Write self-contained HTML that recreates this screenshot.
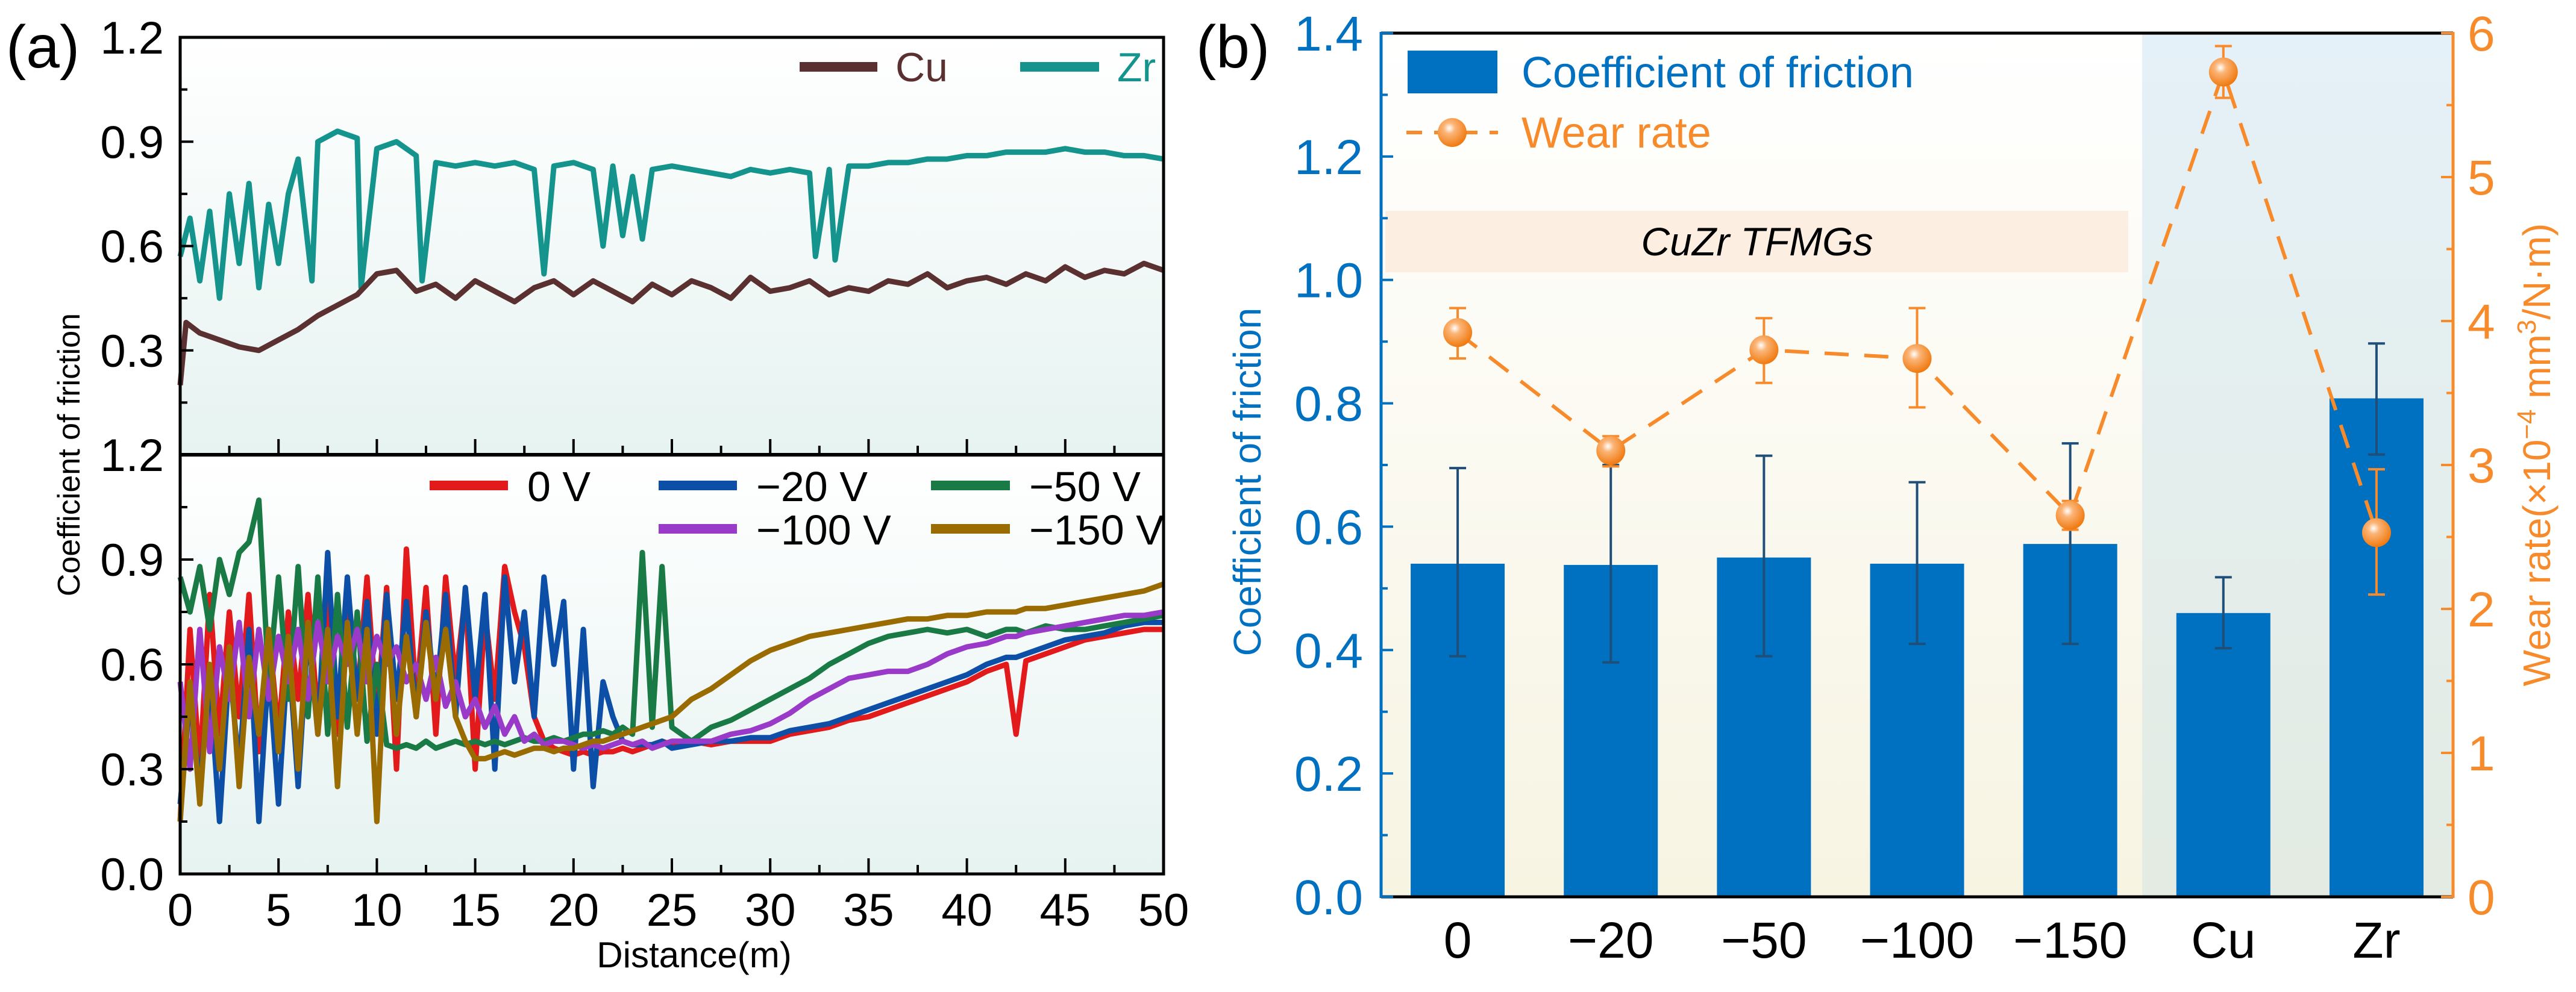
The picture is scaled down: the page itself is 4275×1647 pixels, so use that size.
<!DOCTYPE html>
<html><head><meta charset="utf-8"><style>
html,body{margin:0;padding:0;background:#fff}
svg{display:block}
text{font-family:"Liberation Sans Narrow","Liberation Sans",sans-serif}
</style></head><body>
<svg id="fig" width="4275" height="1647" viewBox="0 0 4275 1647" xmlns="http://www.w3.org/2000/svg">
<defs>
<linearGradient id="gL" x1="0" y1="0" x2="0" y2="1"><stop offset="0" stop-color="#ffffff"/><stop offset="1" stop-color="#e6f3f1"/></linearGradient>
<linearGradient id="gY" x1="0" y1="0" x2="0" y2="1"><stop offset="0" stop-color="#ffffff"/><stop offset="1" stop-color="#f7f4e2"/></linearGradient>
<linearGradient id="gB" x1="0" y1="0" x2="0" y2="1"><stop offset="0" stop-color="#e5f1f8"/><stop offset="1" stop-color="#e3ebe2"/></linearGradient>
<radialGradient id="ball" cx="0.4" cy="0.35" r="0.65"><stop offset="0" stop-color="#ffffff"/><stop offset="0.3" stop-color="#fbb578"/><stop offset="1" stop-color="#f07a10"/></radialGradient>
</defs>
<g id="pa"></g>
<g id="pb"></g>
</svg>
<script>
// ---------- Panel (a) top data ----------
const zrX = [0,0.5,1,1.5,2,2.5,3,3.5,4,4.5,5,5.5,6,6.7,7,8,9,9.2,10,11,12,12.3,13,14,15,16,17,18,18.5,19,20,21,21.5,22,22.5,23,23.5,24,25,26,27,28,29,30,31,32,32.3,33,33.3,34,35,36,37,38,39,40,41,42,43,44,45,46,47,48,49,50];
const zrY = [0.57,0.68,0.5,0.7,0.45,0.75,0.55,0.78,0.48,0.72,0.55,0.75,0.85,0.5,0.9,0.93,0.91,0.48,0.88,0.9,0.86,0.5,0.84,0.83,0.84,0.83,0.84,0.82,0.52,0.83,0.84,0.82,0.6,0.83,0.63,0.8,0.62,0.82,0.83,0.82,0.81,0.8,0.82,0.81,0.82,0.81,0.57,0.82,0.56,0.83,0.83,0.84,0.84,0.85,0.85,0.86,0.86,0.87,0.87,0.87,0.88,0.87,0.87,0.86,0.86,0.85];
const cuX = [0,0.3,1,2,3,4,5,6,7,8,9,10,11,12,13,14,15,16,17,18,19,20,21,22,23,24,25,26,27,28,29,30,31,32,33,34,35,36,37,38,39,40,41,42,43,44,45,46,47,48,49,50];
const cuY = [0.2,0.38,0.35,0.33,0.31,0.3,0.33,0.36,0.4,0.43,0.46,0.52,0.53,0.47,0.49,0.45,0.5,0.47,0.44,0.48,0.5,0.46,0.5,0.47,0.44,0.49,0.46,0.5,0.48,0.45,0.51,0.47,0.48,0.5,0.46,0.48,0.47,0.5,0.49,0.52,0.48,0.5,0.51,0.49,0.52,0.5,0.54,0.51,0.53,0.52,0.55,0.53];
// ---------- Panel (a) bottom data ----------
const biasX = [0,0.5,1,1.5,2,2.5,3,3.5,4,4.5,5,5.5,6,6.5,7,7.5,8,8.5,9,9.5,10,10.5,11,11.5,12,12.5,13,13.5,14,14.5,15,15.5,16,16.5,17,17.5,18,18.5,19,19.5,20,20.5,21,21.5,22,22.5,23,23.5,24,24.5,25,26,27,28,29,30,31,32,33,34,35,36,37,38,39,40,41,42,42.5,43,44,45,46,47,48,49,50];
const v0 = [0.15,0.7,0.3,0.8,0.4,0.75,0.45,0.8,0.35,0.7,0.4,0.75,0.5,0.8,0.45,0.78,0.4,0.8,0.5,0.85,0.45,0.82,0.3,0.93,0.5,0.82,0.4,0.85,0.55,0.8,0.3,0.75,0.5,0.88,0.75,0.65,0.45,0.38,0.36,0.35,0.34,0.35,0.34,0.35,0.35,0.36,0.35,0.36,0.37,0.38,0.37,0.38,0.37,0.38,0.38,0.38,0.4,0.41,0.42,0.44,0.45,0.47,0.49,0.51,0.53,0.55,0.58,0.6,0.4,0.61,0.63,0.65,0.67,0.68,0.69,0.7,0.7];
const v20 = [0.2,0.5,0.25,0.55,0.15,0.6,0.3,0.7,0.15,0.6,0.2,0.65,0.25,0.7,0.4,0.92,0.45,0.85,0.5,0.78,0.4,0.8,0.5,0.78,0.45,0.75,0.5,0.8,0.45,0.82,0.5,0.8,0.3,0.85,0.55,0.75,0.45,0.85,0.6,0.78,0.3,0.7,0.25,0.55,0.45,0.38,0.37,0.37,0.37,0.38,0.36,0.37,0.38,0.38,0.39,0.39,0.41,0.42,0.43,0.45,0.47,0.49,0.51,0.53,0.55,0.57,0.6,0.62,0.62,0.63,0.65,0.67,0.68,0.69,0.71,0.72,0.72];
const v50 = [0.85,0.75,0.88,0.7,0.9,0.8,0.92,0.95,1.07,0.55,0.85,0.5,0.88,0.45,0.85,0.4,0.8,0.42,0.75,0.38,0.6,0.37,0.36,0.37,0.36,0.38,0.36,0.37,0.38,0.37,0.38,0.37,0.38,0.37,0.38,0.39,0.38,0.38,0.39,0.38,0.39,0.4,0.4,0.41,0.4,0.42,0.4,0.92,0.42,0.88,0.42,0.38,0.42,0.44,0.47,0.5,0.53,0.56,0.6,0.63,0.66,0.68,0.69,0.7,0.69,0.7,0.68,0.7,0.7,0.69,0.71,0.7,0.7,0.71,0.72,0.73,0.74];
const v100 = [0.55,0.3,0.7,0.35,0.65,0.5,0.72,0.45,0.7,0.5,0.68,0.55,0.7,0.5,0.72,0.55,0.68,0.6,0.7,0.55,0.68,0.6,0.65,0.55,0.6,0.5,0.62,0.48,0.55,0.45,0.5,0.42,0.48,0.4,0.45,0.38,0.4,0.37,0.38,0.38,0.37,0.36,0.37,0.36,0.37,0.38,0.37,0.38,0.36,0.37,0.38,0.38,0.38,0.4,0.41,0.43,0.46,0.5,0.53,0.56,0.57,0.58,0.58,0.6,0.63,0.65,0.66,0.68,0.68,0.69,0.7,0.71,0.72,0.73,0.74,0.74,0.75];
const v150 = [0.15,0.55,0.2,0.6,0.3,0.65,0.25,0.62,0.4,0.7,0.35,0.68,0.3,0.72,0.4,0.7,0.25,0.72,0.4,0.7,0.15,0.72,0.4,0.68,0.45,0.72,0.5,0.7,0.45,0.38,0.33,0.33,0.34,0.35,0.34,0.35,0.36,0.36,0.35,0.36,0.36,0.37,0.38,0.38,0.39,0.4,0.41,0.42,0.43,0.44,0.45,0.5,0.53,0.57,0.61,0.64,0.66,0.68,0.69,0.7,0.71,0.72,0.73,0.73,0.74,0.74,0.75,0.75,0.75,0.76,0.76,0.77,0.78,0.79,0.8,0.81,0.83];
const distTicks = [0,5,10,15,20,25,30,35,40,45,50];
const cofTicks = [0.0,0.3,0.6,0.9,1.2];
// ---------- Panel (b) data ----------
const categories = ["0","\u221220","\u221250","\u2212100","\u2212150","Cu","Zr"];
const cofMean = [0.54,0.538,0.55,0.54,0.572,0.46,0.808];
const cofLow = [0.39,0.38,0.39,0.41,0.41,0.403,0.717];
const cofHigh = [0.695,0.70,0.715,0.672,0.735,0.518,0.897];
const wearMean = [3.92,3.10,3.80,3.74,2.65,5.73,2.53];
const wearLow = [3.74,2.99,3.57,3.40,2.55,5.55,2.10];
const wearHigh = [4.09,3.20,4.02,4.09,2.75,5.91,2.97];
const leftTicks = [0.0,0.2,0.4,0.6,0.8,1.0,1.2,1.4];
const rightTicks = [0,1,2,3,4,5,6];

const NS="http://www.w3.org/2000/svg";
function mk(parent,tag,attrs,txt){const e=document.createElementNS(NS,tag);for(const k in attrs)e.setAttribute(k,attrs[k]);if(txt!==undefined)e.textContent=txt;parent.appendChild(e);return e;}

// ===== Panel (a) =====
const pa=document.getElementById('pa');
const AX0=299, AX1=1931;
const xA=d=>AX0+(d/50)*(AX1-AX0);
const topY0=755, topY1=62, botY0=1451, botY1=755;
const yTop=v=>topY0+(v/1.2)*(topY1-topY0);
const yBot=v=>botY0+(v/1.2)*(botY1-botY0);
let r=mk(pa,'rect',{x:AX0,y:topY1,width:AX1-AX0,height:topY0-topY1,fill:'url(#gL)'});


r=mk(pa,'rect',{x:AX0,y:botY1,width:AX1-AX0,height:botY0-botY1,fill:'url(#gL)'});


function line(parent,xs,ys,yf,color,name){
  let d='';xs.forEach((x,i)=>{d+=(i?'L':'M')+xA(x).toFixed(1)+' '+yf(ys[i]).toFixed(1);});
  const p=mk(parent,'path',{d:d,fill:'none',stroke:color,'stroke-width':9,'stroke-linejoin':'round'});
  
  
}
line(pa,zrX,zrY,yTop,'#14948c','zr-line');
line(pa,cuX,cuY,yTop,'#5b3030','cu-line');
line(pa,biasX,v0,yBot,'#e31a1c','line-0v');
line(pa,biasX,v20,yBot,'#0d4ea6','line-minus20v');
line(pa,biasX,v50,yBot,'#1a7a45','line-minus50v');
line(pa,biasX,v100,yBot,'#9a3ac8','line-minus100v');
line(pa,biasX,v150,yBot,'#9a6b00','line-minus150v');
r=mk(pa,'rect',{x:AX0,y:topY1,width:AX1-AX0,height:botY0-topY1,fill:'none',stroke:'#000','stroke-width':5});


r=mk(pa,'line',{x1:AX0,y1:topY0,x2:AX1,y2:topY0,stroke:'#000','stroke-width':6});


for(let d=0;d<=50;d+=2.5){const maj=(d%5===0);const L=maj?26:15;
  for(const by of [topY0,botY0]){const t=mk(pa,'line',{x1:xA(d),y1:by,x2:xA(d),y2:by-L,stroke:'#000','stroke-width':4});
  
  }}
for(let v=0;v<=1.2001;v+=0.15){const maj=Math.abs(v/0.3-Math.round(v/0.3))<1e-6;const L=maj?22:12;
  for(const yf of [yTop,yBot]){const t=mk(pa,'line',{x1:AX0,y1:yf(v),x2:AX0+L,y2:yf(v),stroke:'#000','stroke-width':4});
  
  }}
distTicks.forEach(d=>{const t=mk(pa,'text',{x:xA(d),y:1537,'font-size':76,'text-anchor':'middle',fill:'#000'},String(d));
  
  });
cofTicks.forEach(v=>{if(v>0){const t=mk(pa,'text',{x:272,y:yTop(v)+27,'font-size':76,'text-anchor':'end',fill:'#000'},v.toFixed(1));
  
  }
  const t2=mk(pa,'text',{x:272,y:yBot(v)+27,'font-size':76,'text-anchor':'end',fill:'#000'},v.toFixed(1));
  
  });
let t=mk(pa,'text',{x:1152,y:1606,'font-size':60,'text-anchor':'middle',fill:'#000'},'Distance(m)');


t=mk(pa,'text',{x:0,y:0,'font-size':52,'text-anchor':'middle',fill:'#000',transform:'translate(132,755) rotate(-90)',style:'font-family:"Liberation Sans",sans-serif'},'Coefficient of friction');


t=mk(pa,'text',{x:10,y:112,'font-size':100,fill:'#000'},'(a)');


function legA(x1,x2,y,color,label,name){
  const l=mk(pa,'line',{x1:x1,y1:y,x2:x2,y2:y,stroke:color,'stroke-width':16});
  
  
  const tx=mk(pa,'text',{x:x2+30,y:y+24,'font-size':68,fill:color},label);
  
  
}
legA(1327,1456,111,'#5b3030','Cu','legend-cu');
legA(1693,1824,111,'#14948c','Zr','legend-zr');
function legB(x1,x2,y,color,label,name){
  const l=mk(pa,'line',{x1:x1,y1:y,x2:x2,y2:y,stroke:color,'stroke-width':16});
  
  
  const tx=mk(pa,'text',{x:x2+32,y:y+26,'font-size':70,fill:'#000'},label);
  
  
}
legB(713,843,806,'#e31a1c','0 V','legend-0v');
legB(1093,1223,806,'#0d4ea6','\u221220 V','legend-minus20v');
legB(1545,1676,806,'#1a7a45','\u221250 V','legend-minus50v');
legB(1093,1223,878,'#9a3ac8','\u2212100 V','legend-minus100v');
legB(1545,1676,878,'#9a6b00','\u2212150 V','legend-minus150v');

// ===== Panel (b) =====
const pb=document.getElementById('pb');
const BX0=2292,BX1=4071,BY0=1489,BY1=55;
const yL=v=>BY0-(v/1.4)*(BY0-BY1);
const yR=v=>BY0-(v/6)*(BY0-BY1);
const catW=(BX1-BX0)/categories.length;
const xC=i=>BX0+catW*(i+0.5);
const SPLIT=3555;
r=mk(pb,'rect',{x:BX0,y:BY1,width:SPLIT-BX0,height:BY0-BY1,fill:'url(#gY)'});


r=mk(pb,'rect',{x:SPLIT,y:BY1,width:BX1-SPLIT,height:BY0-BY1,fill:'url(#gB)'});


r=mk(pb,'rect',{x:2299,y:350,width:1233,height:102,fill:'#fdeee2'});


t=mk(pb,'text',{x:2916,y:424,'font-size':66,'font-style':'italic','text-anchor':'middle',fill:'#000'},'CuZr TFMGs');


const BW=156;
categories.forEach((c,i)=>{
  const b=mk(pb,'rect',{x:xC(i)-BW/2,y:yL(cofMean[i]),width:BW,height:BY0-yL(cofMean[i]),fill:'#0070c0'});
  
  
  const e=mk(pb,'path',{d:`M${xC(i)} ${yL(cofLow[i])}V${yL(cofHigh[i])}M${xC(i)-14} ${yL(cofLow[i])}h28M${xC(i)-14} ${yL(cofHigh[i])}h28`,stroke:'#1f4e79','stroke-width':4,fill:'none'});
  
  
  const lab=mk(pb,'text',{x:xC(i),y:1590,'font-size':84,'text-anchor':'middle',fill:'#000'},c);
  
  
});
let wd='';wearMean.forEach((w,i)=>{wd+=(i?'L':'M')+xC(i)+' '+yR(w).toFixed(1);});
let wl=mk(pb,'path',{d:wd,fill:'none',stroke:'#f78b2b','stroke-width':6,'stroke-dasharray':'40 26'});


wearMean.forEach((w,i)=>{
  const e=mk(pb,'path',{d:`M${xC(i)} ${yR(wearLow[i])}V${yR(wearHigh[i])}M${xC(i)-14} ${yR(wearLow[i])}h28M${xC(i)-14} ${yR(wearHigh[i])}h28`,stroke:'#f78b2b','stroke-width':4,fill:'none'});
  
  
  const m=mk(pb,'circle',{cx:xC(i),cy:yR(w),r:24,fill:'url(#ball)'});
  
  
});
let a=mk(pb,'line',{x1:BX0,y1:BY1,x2:BX1,y2:BY1,stroke:'#000','stroke-width':5});


a=mk(pb,'line',{x1:BX0,y1:BY0,x2:BX1,y2:BY0,stroke:'#000','stroke-width':5});


a=mk(pb,'line',{x1:BX0,y1:BY1-2,x2:BX0,y2:BY0+2,stroke:'#0070c0','stroke-width':5});


a=mk(pb,'line',{x1:BX1,y1:BY1-2,x2:BX1,y2:BY0+2,stroke:'#f78b2b','stroke-width':5});


for(let v=0;v<=1.4001;v+=0.1){const maj=Math.round(v*10)%2===0;
  const tk=mk(pb,'line',{x1:BX0,y1:yL(v),x2:BX0+(maj?20:11),y2:yL(v),stroke:'#0070c0','stroke-width':4});
  
  }
for(let v=0;v<=6.001;v+=0.5){const maj=Math.abs(v-Math.round(v))<1e-6;
  const tk=mk(pb,'line',{x1:BX1,y1:yR(v),x2:BX1-(maj?20:11),y2:yR(v),stroke:'#f78b2b','stroke-width':4});
  
  }
leftTicks.forEach(v=>{const tx=mk(pb,'text',{x:2262,y:yL(v)+29,'font-size':82,'text-anchor':'end',fill:'#0070c0'},v.toFixed(1));
  
  });
rightTicks.forEach(v=>{const tx=mk(pb,'text',{x:4095,y:yR(v)+29,'font-size':82,fill:'#f78b2b'},String(v));
  
  });
t=mk(pb,'text',{x:0,y:0,'font-size':64,'text-anchor':'middle',fill:'#0070c0',transform:'translate(2092,800) rotate(-90)',style:'font-family:"Liberation Sans",sans-serif'},'Coefficient of friction');


t=mk(pb,'text',{x:0,y:0,'font-size':64,'text-anchor':'middle',fill:'#f78b2b',transform:'translate(4232,755) rotate(-90)'});
t.innerHTML='Wear rate(\u00d710<tspan dy="-24" font-size="44">\u22124</tspan><tspan dy="24"> mm</tspan><tspan dy="-24" font-size="44">3</tspan><tspan dy="24">/N\u00b7m)</tspan>';


t=mk(pb,'text',{x:1985,y:112,'font-size':100,fill:'#000'},'(b)');


r=mk(pb,'rect',{x:2336,y:84,width:149,height:71,fill:'#0070c0'});


t=mk(pb,'text',{x:2525,y:145,'font-size':72,fill:'#0070c0'},'Coefficient of friction');


r=mk(pb,'line',{x1:2334,y1:220,x2:2486,y2:220,stroke:'#f78b2b','stroke-width':6,'stroke-dasharray':'26 20'});


r=mk(pb,'circle',{cx:2410,cy:220,r:24,fill:'url(#ball)'});


t=mk(pb,'text',{x:2525,y:245,'font-size':72,fill:'#f78b2b'},'Wear rate');


</script>
</body></html>
